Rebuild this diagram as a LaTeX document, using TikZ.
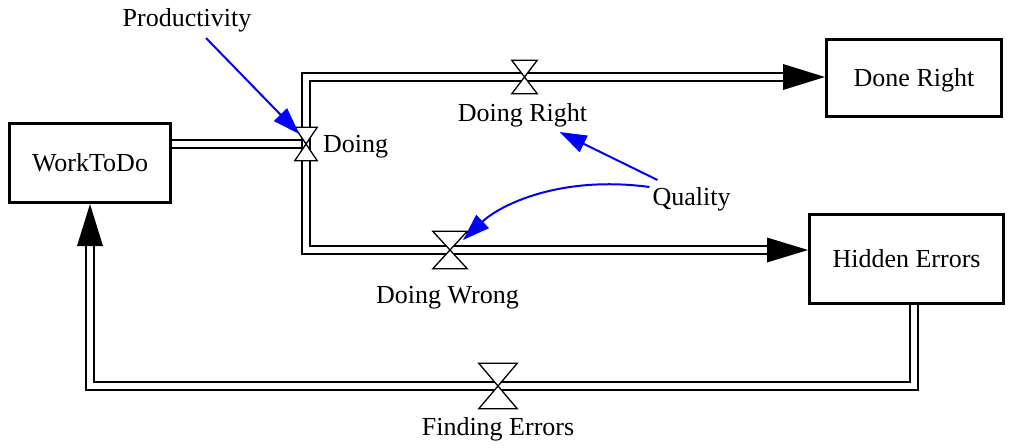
\documentclass[tikz,border=0pt]{standalone}
\usepackage{fontspec}
\setmainfont{Liberation Serif}
\usetikzlibrary{arrows.meta,calc,backgrounds}
\begin{document}
\begin{tikzpicture}[x=1pt,y=-1pt,
  every node/.style={font=\fontsize{26}{31}\selectfont, inner sep=0pt},
  stock/.style={draw, line width=3pt, fill=white, text height=20pt, text depth=3pt},
  pipe/.style={draw, line width=1.3pt, double=white, double distance=6.7pt},
  valvebox/.style={inner sep=0pt, draw=none},
  valveline/.style={draw, fill=white, line width=1.3pt, line join=miter},
  infl/.style={draw=blue, line width=2pt, -{Triangle[length=27pt,width=18pt]}},
  lab/.style={anchor=base}
]
\useasboundingbox (0,0) rectangle (1011,447);

% stocks
\node[stock, minimum width=161pt, minimum height=79pt] (wtd) at (90,163) {WorkToDo};
\node[stock, minimum width=175pt, minimum height=77pt] (dr) at (914,78) {Done Right};
\node[stock, minimum width=194pt, minimum height=89pt] (he) at (906.5,259) {Hidden Errors};

% valves (placeholders)
\node[valvebox, minimum width=22pt, minimum height=33pt] (vdoing) at (306,144) {};
\node[valvebox, minimum width=25pt, minimum height=33pt] (vright) at (524.5,77) {};
\node[valvebox, minimum width=34pt, minimum height=37pt] (vwrong) at (450,250) {};
\node[valvebox, minimum width=38pt, minimum height=45pt] (vfind) at (498,386) {};

\coordinate (hs) at ($(he.south)+(7.5,0)$);

% pipes
\begin{scope}[on background layer]
\draw[pipe] (wtd.east |- vdoing) -- ($(vdoing)+(-4.5,0)$);
\draw[pipe] ($(dr.west |- vright)+(-38,0)$) -- (vdoing |- vright) -- (vdoing |- vwrong) -- ($(he.west |- vwrong)+(-37,0)$);
\draw[pipe] (hs) -- (hs |- vfind) -- (wtd.south |- vfind) -- ($(wtd.south)+(0,37)$);
\end{scope}

% flow arrowheads
\fill (dr.west |- vright) -- ++(-42,-13) -- ++(0,26) -- cycle;
\fill (he.west |- vwrong) -- ++(-41,-12.5) -- ++(0,25) -- cycle;
\fill (wtd.south) -- ++(-13,42) -- ++(26,0) -- cycle;

% valve hourglasses
\foreach \v in {vdoing,vright,vwrong,vfind}
  \draw[valveline] (\v.north west) -- (\v.north east) -- (\v.south west) -- (\v.south east) -- cycle;

% labels
\node[lab] (prod) at (187,27) {Productivity};
\node[anchor=base west] (ldoing) at (323,152) {Doing};
\node[lab] (lright) at (522.5,121) {Doing Right};
\node[lab] (qual) at (691.5,205) {Quality};
\node[lab] (lwrong) at (447.5,303) {Doing Wrong};
\node[lab] (lfind) at (498,435) {Finding Errors};

% influences
\draw[infl] ($(prod.base)+(19,11)$) -- ($(vdoing.north west)!0.2!(vdoing.south east)$);
\draw[infl] ($(qual.base)+(-34,-25)$) -- ($(lright.base)+(37,11)$);
\draw[infl] ($(qual.base)+(-42,-18)$) .. controls (560,175) and (500,205) .. ($(vwrong)+(13,-10)$);
\end{tikzpicture}
\end{document}
